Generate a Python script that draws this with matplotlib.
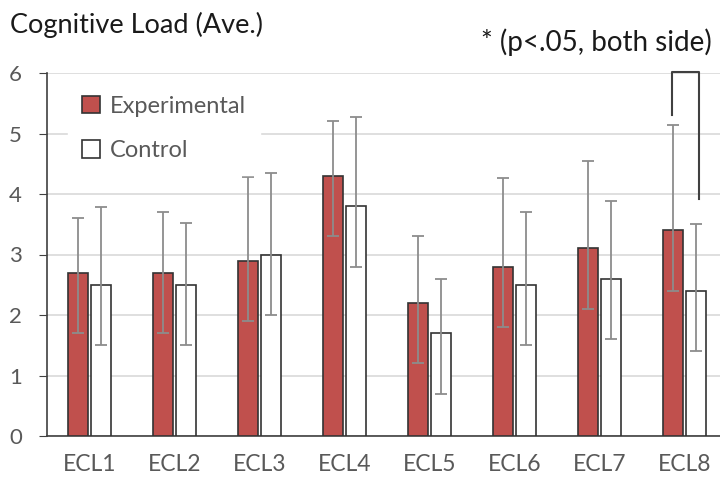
import numpy as np
import matplotlib.pyplot as plt

plt.rcParams['font.family'] = ['Lato', 'DejaVu Sans']

# data
labels = ['ECL1', 'ECL2', 'ECL3', 'ECL4', 'ECL5', 'ECL6', 'ECL7', 'ECL8']
exp_mean = [2.7, 2.7, 2.9, 4.3, 2.2, 2.8, 3.1, 3.4]
ctl_mean = [2.5, 2.5, 3.0, 3.8, 1.7, 2.5, 2.6, 2.4]
exp_err_low = [1.0, 1.0, 1.0, 1.0, 1.0, 1.0, 1.0, 1.0]
exp_err_high = [0.9, 1.0, 1.38, 0.9, 1.1, 1.47, 1.45, 1.74]
ctl_err_low = [1.0, 1.0, 1.0, 1.0, 1.0, 1.0, 1.0, 1.0]
ctl_err_high = [1.29, 1.02, 1.35, 1.47, 0.9, 1.2, 1.28, 1.1]

x = np.arange(len(labels))
w = 0.23
off = 0.135

fig = plt.figure(figsize=(7.2, 4.78), dpi=100)
ax = fig.add_axes([47/720, 42/478, 680/720, 363/478])

ax.bar(x - off, exp_mean, w, color='#C0504D', edgecolor='#333333', linewidth=1.2,
       label='Experimental', zorder=3)
ax.bar(x + off, ctl_mean, w, color='white', edgecolor='#333333', linewidth=1.2,
       label='Control', zorder=3)
ax.errorbar(x - off, exp_mean, yerr=[exp_err_low, exp_err_high], fmt='none',
            ecolor='#8c8c8c', elinewidth=1.3, capsize=4, capthick=1.3, zorder=4)
ax.errorbar(x + off, ctl_mean, yerr=[ctl_err_low, ctl_err_high], fmt='none',
            ecolor='#8c8c8c', elinewidth=1.3, capsize=4, capthick=1.3, zorder=4)

ax.set_xlim(-0.5, 7.5)
ax.set_ylim(0, 6)
ax.set_yticks(range(7))
ax.set_xticks(x)
ax.set_xticklabels(labels)
ax.yaxis.grid(True, color='#d9d9d9', linewidth=1.2, zorder=0)
ax.set_axisbelow(True)
for s in ['top', 'right']:
    ax.spines[s].set_visible(False)
ax.spines['left'].set_color('#404040')
ax.spines['left'].set_linewidth(1.2)
ax.spines['bottom'].set_color('#404040')
ax.spines['bottom'].set_linewidth(1.2)
ax.tick_params(axis='y', length=6, color='#404040', labelsize=16, labelcolor='#595959', pad=12)
ax.tick_params(axis='x', length=0, labelsize=16.5, labelcolor='#595959', pad=13)

# significance bracket on ECL8
bx0 = 7 - 0.147
bx1 = 7 + 0.17
ax.plot([bx0, bx0, bx1, bx1], [5.31, 6.02, 6.02, 3.92], color='#404040',
        linewidth=1.5, clip_on=False, zorder=5)

leg = ax.legend(loc='upper left', bbox_to_anchor=(0.031, 0.977), fontsize=17,
                frameon=True, framealpha=1, edgecolor='white', fancybox=False,
                handlelength=0.75, handleheight=0.75, handletextpad=0.4,
                labelspacing=1.0, borderpad=0.6, borderaxespad=0)
for t in leg.get_texts():
    t.set_color('#595959')

fig.text(10/720, 1 - 25/478, 'Cognitive Load (Ave.)', fontsize=19.5, color='#1a1a1a',
         ha='left', va='center')
fig.text(712/720, 1 - 42/478, '* (p<.05, both side)', fontsize=20, color='#1a1a1a',
         ha='right', va='center')

fig.savefig('out.png', dpi=100)
